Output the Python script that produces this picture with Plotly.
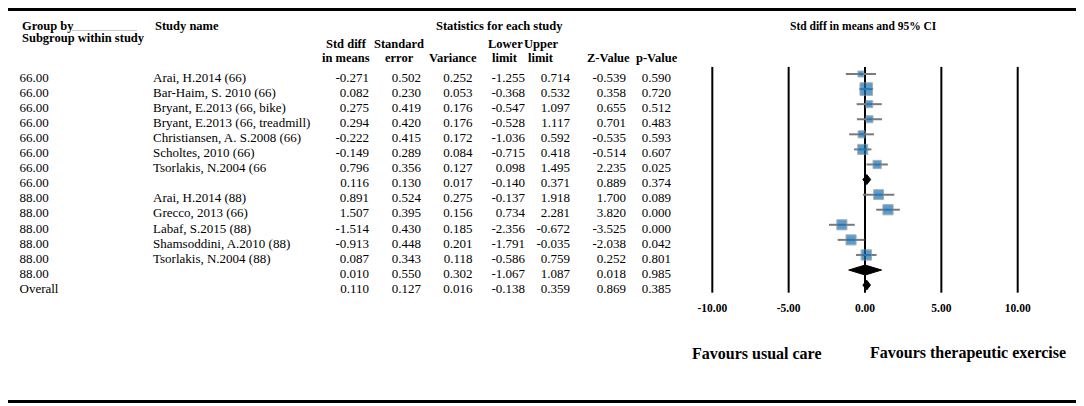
import numpy as np
import plotly.graph_objects as go

# ---- data ----
groups = ["66.00"] * 8 + ["88.00"] * 6 + ["Overall"]
studies = [
    "Arai, H.2014 (66)", "Bar-Haim, S. 2010 (66)", "Bryant, E.2013 (66, bike)",
    "Bryant, E.2013 (66, treadmill)", "Christiansen, A. S.2008 (66)", "Scholtes, 2010 (66)",
    "Tsorlakis, N.2004 (66", "",
    "Arai, H.2014 (88)", "Grecco, 2013 (66)", "Labaf, S.2015 (88)",
    "Shamsoddini, A.2010 (88)", "Tsorlakis, N.2004 (88)", "", "",
]
std_diff = [-0.271, 0.082, 0.275, 0.294, -0.222, -0.149, 0.796, 0.116,
            0.891, 1.507, -1.514, -0.913, 0.087, 0.010, 0.110]
std_err = [0.502, 0.230, 0.419, 0.420, 0.415, 0.289, 0.356, 0.130,
           0.524, 0.395, 0.430, 0.448, 0.343, 0.550, 0.127]
variance = [0.252, 0.053, 0.176, 0.176, 0.172, 0.084, 0.127, 0.017,
            0.275, 0.156, 0.185, 0.201, 0.118, 0.302, 0.016]
lower = [-1.255, -0.368, -0.547, -0.528, -1.036, -0.715, 0.098, -0.140,
         -0.137, 0.734, -2.356, -1.791, -0.586, -1.067, -0.138]
upper = [0.714, 0.532, 1.097, 1.117, 0.592, 0.418, 1.495, 0.371,
         1.918, 2.281, -0.672, -0.035, 0.759, 1.087, 0.359]
z_value = [-0.539, 0.358, 0.655, 0.701, -0.535, -0.514, 2.235, 0.889,
           1.700, 3.820, -3.525, -2.038, 0.252, 0.018, 0.869]
p_value = [0.590, 0.720, 0.512, 0.483, 0.593, 0.607, 0.025, 0.374,
           0.089, 0.000, 0.000, 0.042, 0.801, 0.985, 0.385]
axis_ticks = [-10, -5, 0, 5, 10]

FONT = "Liberation Serif"
OFF = 8                        # page margin around the plot div
W, H = 1084 - OFF, 406 - OFF   # figure size
ROW0, ROWH = 74, 15.08         # page px centre of first row, row pitch
TEXT_SHIFT = 0.3               # table text sits a little below the boxes
PLOT_BOTTOM = 295              # page px bottom of the plotting band
ZERO_PX, PX_UNIT = 865, 15.27  # forest x axis mapping (page px)
SPLIT = 683                    # table / forest boundary (page px)


def fx(px):   # page px -> figure px
    return px - OFF


def py(px):   # page px -> paper y
    return 1 - (px - OFF) / H


rows = np.arange(len(groups))
std_diff = np.array(std_diff)
lower = np.array(lower)
upper = np.array(upper)
variance = np.array(variance)
is_study = np.array([s != "" for s in studies])

# ---- box sizes: random-effects weight (DerSimonian-Laird) relative within group ----
box_size = np.zeros(len(groups))
for g in ["66.00", "88.00"]:
    idx = np.where((np.array(groups) == g) & is_study)[0]
    w = 1 / variance[idx]
    ybar = np.sum(w * std_diff[idx]) / w.sum()
    q = np.sum(w * (std_diff[idx] - ybar) ** 2)
    c = w.sum() - np.sum(w ** 2) / w.sum()
    tau2 = max(0.0, (q - (len(idx) - 1)) / c)
    w_re = 1 / (variance[idx] + tau2)
    box_size[idx] = 22.6 * np.sqrt(w_re / w_re.sum())

fig = go.Figure()

# ---- table columns (xaxis2 is in figure pixel units) ----
def col(texts, xpos, pos):
    fig.add_trace(go.Scatter(
        x=[fx(xpos)] * len(texts), y=rows + TEXT_SHIFT, text=texts, mode="text",
        textposition=pos, textfont=dict(family=FONT, size=13, color="black"),
        xaxis="x2", yaxis="y", hoverinfo="skip", showlegend=False))

col(groups, 19.5, "middle right")
col(studies, 153, "middle right")
col([f"{v:.3f}" for v in std_diff], 369, "middle left")
col([f"{v:.3f}" for v in std_err], 421, "middle left")
col([f"{v:.3f}" for v in variance], 472.5, "middle left")
col([f"{v:.3f}" for v in lower], 525, "middle left")
col([f"{v:.3f}" for v in upper], 570, "middle left")
col([f"{v:.3f}" for v in z_value], 626, "middle left")
col([f"{v:.3f}" for v in p_value], 671, "middle left")

# ---- vertical reference lines ----
lx, ly = [], []
for t in axis_ticks:
    lx += [t, t, None]
    ly += [-0.47, len(groups) - 0.5, None]
fig.add_trace(go.Scatter(x=lx, y=ly, mode="lines", line=dict(color="black", width=2),
                         hoverinfo="skip", showlegend=False))

# ---- study boxes with CIs ----
fig.add_trace(go.Scatter(
    x=std_diff[is_study], y=rows[is_study], mode="markers",
    marker=dict(symbol="square", size=box_size[is_study], color="#1673bb",
                line=dict(color="#8a8a8a", width=1)),
    error_x=dict(type="data", symmetric=False,
                 array=(upper - std_diff)[is_study],
                 arrayminus=(std_diff - lower)[is_study],
                 color="#7a7a7a", thickness=2, width=0),
    showlegend=False))

# ---- summary diamonds ----
half = 0.33
for i in rows[~is_study]:
    fig.add_trace(go.Scatter(
        x=[lower[i], std_diff[i], upper[i], std_diff[i], lower[i]],
        y=[i, i - half, i, i + half, i],
        mode="lines", fill="toself", fillcolor="black",
        line=dict(color="black", width=1), hoverinfo="skip", showlegend=False))

# ---- header texts ----
ann = []
def label(text, x, y, anchor="left", size=12.5):
    ann.append(dict(text=text, x=fx(x) / W, y=py(y), xref="paper", yref="paper",
                    showarrow=False, xanchor=anchor, yanchor="middle",
                    font=dict(family=FONT, size=size, color="black")))

label("<b>Group by</b>", 20, 26)
label("<b>Subgroup within study</b>", 20, 38.5)
label("<b>Study name</b>", 153, 26)
label("<b>Statistics for each study</b>", 499, 26, "center")
for top, bottom, cx in [("Std diff", "in means", 346), ("Standard", "error", 399),
                        ("", "Variance", 453), ("Lower", "limit", 505),
                        ("Upper", "limit", 541), ("", "Z-Value", 608), ("", "p-Value", 657)]:
    if top:
        label(f"<b>{top}</b>", cx, 44, "center")
    label(f"<b>{bottom}</b>", cx, 58, "center")
label("<b>Std diff in means and 95% CI</b>", 863, 26, "center", 11.5)
label("<b>Favours usual care</b>", 756, 353, "center", 16)
label("<b>Favours therapeutic exercise</b>", 968, 353, "center", 16)

shapes = [
    dict(type="line", xref="paper", yref="paper", x0=0, x1=1, y0=py(9.5), y1=py(9.5),
         line=dict(color="black", width=3)),
    dict(type="line", xref="paper", yref="paper", x0=0, x1=1, y0=py(401.5), y1=py(401.5),
         line=dict(color="black", width=3)),
    dict(type="line", xref="paper", yref="paper", x0=fx(72) / W, x1=fx(137) / W,
         y0=py(30.5), y1=py(30.5), line=dict(color="#c8c8c8", width=1)),
]

fig.update_layout(
    width=W, height=H, margin=dict(l=0, r=0, t=0, b=0),
    paper_bgcolor="white", plot_bgcolor="white",
    annotations=ann, shapes=shapes,
    xaxis=dict(domain=[fx(SPLIT) / W, 1],
               range=[(SPLIT - ZERO_PX) / PX_UNIT, (1084 - ZERO_PX) / PX_UNIT],
               tickvals=axis_ticks, ticktext=[f"<b>{t:.2f}</b>" for t in axis_ticks],
               tickfont=dict(family=FONT, size=11.5, color="black"),
               showgrid=False, zeroline=False, showline=False, ticks="",
               ticklabelstandoff=4, anchor="y"),
    xaxis2=dict(domain=[0, fx(SPLIT) / W], range=[0, fx(SPLIT)], visible=False, anchor="y"),
    yaxis=dict(domain=[py(PLOT_BOTTOM), 1],
               range=[(PLOT_BOTTOM - ROW0) / ROWH, (OFF - ROW0) / ROWH],
               visible=False),
)

fig.write_html("out.html")
